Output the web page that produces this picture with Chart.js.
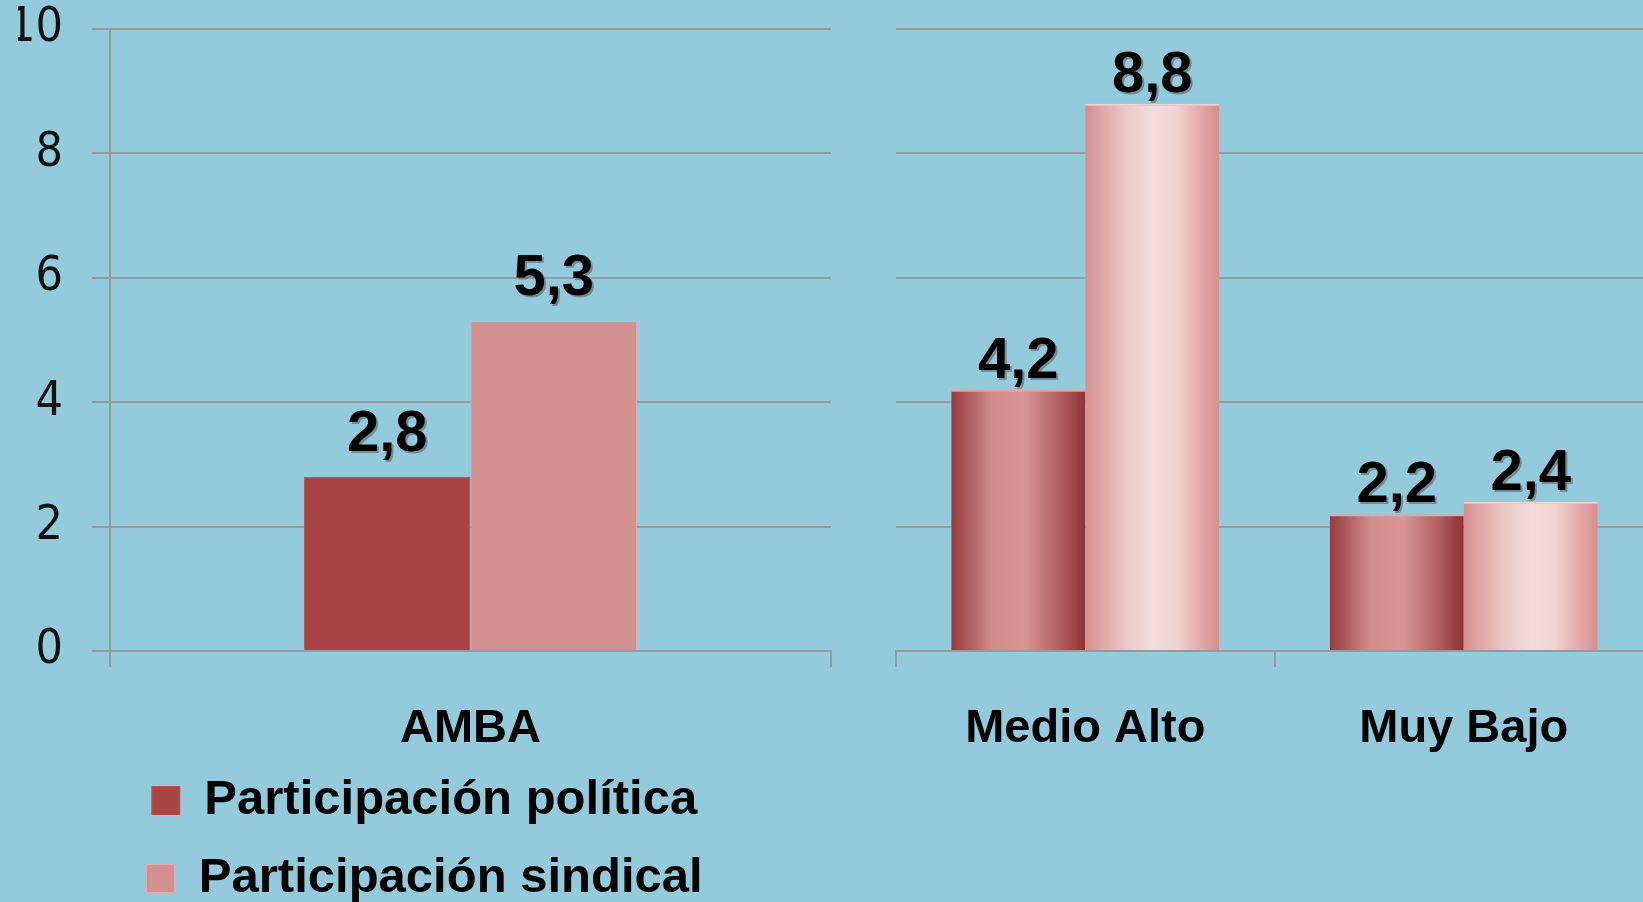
<!DOCTYPE html>
<html lang="es">
<head>
<meta charset="UTF-8">
<title>Participación política y sindical</title>
<script src="https://cdn.jsdelivr.net/npm/chart.js"></script>
<style>
    html, body { margin: 0; padding: 0; background: #93cbdd; overflow: hidden; width: 1643px; height: 902px; }
    #left { position: absolute; left: 0; top: 0; width: 860px; height: 913px; }
    #right { position: absolute; left: 886px; top: 0; width: 777px; height: 902px; }
</style>
</head>
<body>
<div id="left"><canvas id="chartLeft"></canvas></div>
<div id="right"><canvas id="chartRight"></canvas></div>
<script>
    // datos
    var seriesNames = ['Participación política', 'Participación sindical'];
    var leftLabels = ['AMBA'];
    var leftPolitica = [2.8];
    var leftSindical = [5.3];
    var rightLabels = ['Medio Alto', 'Muy Bajo'];
    var rightPolitica = [4.2, 2.2];
    var rightSindical = [8.8, 2.4];
    var yMin = 0, yMax = 10, yStep = 2;

    var boldFont = "'Liberation Sans', Arial, sans-serif";
    var thinFont = "'Liberation Sans Narrow', 'DejaVu Sans Condensed', sans-serif";
    var gridColor = '#9a9a9a';

    // degradado horizontal en cada barra
    var gradientPlugin = {
        id: 'barGradient',
        beforeDatasetsDraw: function(chart) {
            var ctx = chart.ctx;
            chart.data.datasets.forEach(function(ds, i) {
                if (!ds.gradientStops) return;
                chart.getDatasetMeta(i).data.forEach(function(bar) {
                    var g = ctx.createLinearGradient(bar.x - bar.width / 2, 0, bar.x + bar.width / 2, 0);
                    ds.gradientStops.forEach(function(s) { g.addColorStop(s[0], s[1]); });
                    bar.options = Object.assign({}, bar.options, { backgroundColor: g });
                });
            });
        }
    };

    // valores encima de las barras
    var valueLabels = {
        id: 'valueLabels',
        afterDatasetsDraw: function(chart, args, opts) {
            var ctx = chart.ctx;
            ctx.save();
            ctx.font = 'bold 58px ' + boldFont;
            ctx.textAlign = 'center';
            ctx.textBaseline = 'alphabetic';
            ctx.shadowColor = 'rgba(90,90,90,0.55)';
            ctx.shadowOffsetX = 2;
            ctx.shadowOffsetY = 2;
            ctx.fillStyle = '#000';
            chart.data.datasets.forEach(function(ds, i) {
                chart.getDatasetMeta(i).data.forEach(function(bar, j) {
                    var txt = ds.data[j].toFixed(1).replace('.', ',');
                    ctx.fillText(txt, bar.x, bar.y - opts.gap);
                });
            });
            ctx.restore();
        }
    };

    var catTicks = { font: { family: boldFont, size: 47, weight: 'bold' }, color: '#000', padding: 34 };

    new Chart(document.getElementById('chartLeft'), {
        type: 'bar',
        data: {
            labels: leftLabels,
            datasets: [
                { label: seriesNames[0], data: leftPolitica, backgroundColor: '#a94645', borderColor: '#b95352', borderWidth: 1 },
                { label: seriesNames[1], data: leftSindical, backgroundColor: '#d29190', borderColor: '#e3aaa9', borderWidth: 1 }
            ]
        },
        options: {
            responsive: true,
            maintainAspectRatio: false,
            animation: false,
            layout: { padding: { left: 18, right: 29, top: 0, bottom: 0 } },
            datasets: { bar: { categoryPercentage: 0.462, barPercentage: 1 } },
            plugins: {
                legend: {
                    position: 'bottom',
                    align: 'center',
                    labels: {
                        font: { family: boldFont, size: 49, weight: 'bold' },
                        color: '#000',
                        boxWidth: 28,
                        boxHeight: 28,
                        padding: 29
                    }
                },
                tooltip: { enabled: false },
                valueLabels: { gap: 26 }
            },
            scales: {
                x: {
                    grid: { drawOnChartArea: false, tickLength: 16, color: gridColor, lineWidth: 2 },
                    border: { color: gridColor, width: 2 },
                    ticks: catTicks,
                    afterFit: function(s) { s.height = 96; }
                },
                y: {
                    min: yMin, max: yMax,
                    ticks: { stepSize: yStep, font: { family: thinFont, size: 48 }, color: '#111', padding: 29 },
                    grid: { color: gridColor, lineWidth: 2, tickLength: 18 },
                    border: { color: gridColor, width: 2 },
                    afterFit: function(s) { s.width = 92; s.paddingTop = 29; s.paddingBottom = 0; }
                }
            }
        },
        plugins: [valueLabels]
    });

    new Chart(document.getElementById('chartRight'), {
        type: 'bar',
        data: {
            labels: rightLabels,
            datasets: [
                {
                    label: seriesNames[0], data: rightPolitica, backgroundColor: '#c07070', borderColor: '#e8a0a0', borderWidth: { top: 2 },
                    gradientStops: [[0, '#953a3a'], [0.3, '#d38b8b'], [0.55, '#d99595'], [0.8, '#b36262'], [1, '#8d3232']]
                },
                {
                    label: seriesNames[1], data: rightSindical, backgroundColor: '#e8c0c0', borderColor: '#f5d0d0', borderWidth: { top: 2 },
                    gradientStops: [[0, '#d78f8f'], [0.28, '#eac4c4'], [0.5, '#f3dddd'], [0.68, '#f0d4d4'], [0.88, '#e1a5a5'], [1, '#d68e8e']]
                }
            ]
        },
        options: {
            responsive: true,
            maintainAspectRatio: false,
            animation: false,
            layout: { padding: { left: 10, right: 10, top: 29, bottom: 121 } },
            datasets: { bar: { categoryPercentage: 0.708, barPercentage: 1 } },
            plugins: {
                legend: { display: false },
                tooltip: { enabled: false },
                valueLabels: { gap: 12 }
            },
            scales: {
                x: {
                    grid: { drawOnChartArea: false, tickLength: 16, color: gridColor, lineWidth: 2 },
                    border: { color: gridColor, width: 2 },
                    ticks: catTicks,
                    afterFit: function(s) { s.height = 130; }
                },
                y: {
                    min: yMin, max: yMax,
                    ticks: { display: false, stepSize: yStep },
                    grid: { color: gridColor, lineWidth: 2, drawTicks: false },
                    border: { display: false },
                    afterFit: function(s) { s.width = 0; }
                }
            }
        },
        plugins: [gradientPlugin, valueLabels]
    });
</script>
</body>
</html>
